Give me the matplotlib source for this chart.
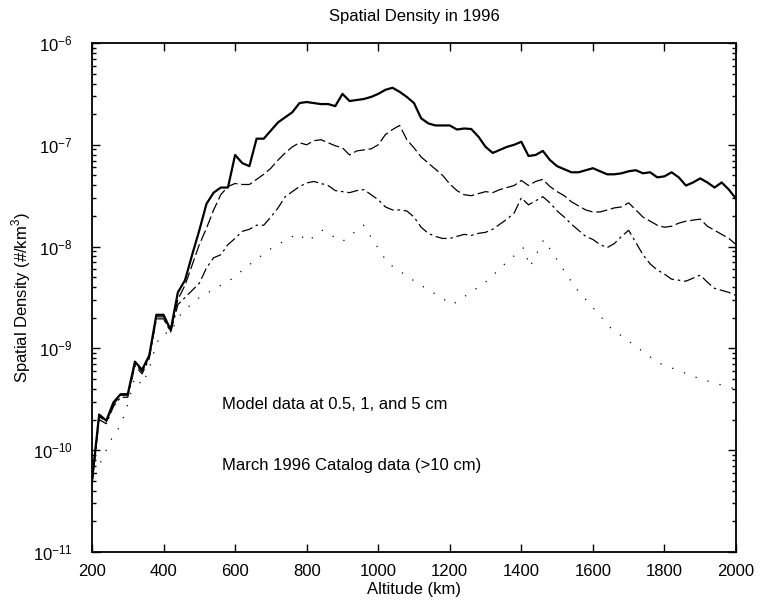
import matplotlib
matplotlib.use("Agg")
import matplotlib.pyplot as plt
import numpy as np

plt.rcParams['font.family'] = ['Liberation Sans', 'DejaVu Sans']
plt.rcParams['mathtext.fontset'] = 'custom'
plt.rcParams['mathtext.rm'] = 'Liberation Sans'

# altitude (km) and log10 of spatial density (#/km^3)
alt_05 = [200, 220, 240, 260, 280, 300, 320, 340, 360, 380, 400, 420, 440, 460, 480,
          500, 520, 540, 560, 580, 600, 620, 640, 660, 680, 700, 720, 740, 760, 780,
          800, 820, 840, 860, 880, 900, 920, 940, 960, 980, 1000, 1020, 1040, 1060,
          1080, 1100, 1120, 1140, 1160, 1180, 1200, 1220, 1240, 1260, 1280, 1300, 1320,
          1340, 1360, 1380, 1400, 1420, 1440, 1460, 1480, 1500, 1520, 1540, 1560, 1580,
          1600, 1620, 1640, 1660, 1680, 1700, 1720, 1740, 1760, 1780, 1800, 1820, 1840,
          1860, 1880, 1900, 1920, 1940, 1960, 1980, 2000]
lg_05 = [-10.30, -9.65, -9.71, -9.53, -9.45, -9.45, -9.13, -9.21, -9.07, -8.67, -8.67,
         -8.82, -8.45, -8.33, -8.08, -7.84, -7.58, -7.47, -7.42, -7.42, -7.10, -7.18,
         -7.21, -6.94, -6.94, -6.86, -6.78, -6.73, -6.68, -6.59, -6.58, -6.59, -6.60,
         -6.60, -6.62, -6.50, -6.57, -6.56, -6.55, -6.53, -6.50, -6.46, -6.44, -6.48,
         -6.53, -6.59, -6.74, -6.79, -6.81, -6.81, -6.81, -6.85, -6.84, -6.845, -6.92,
         -7.02, -7.08, -7.05, -7.02, -7.00, -6.97, -7.11, -7.10, -7.06, -7.15, -7.21,
         -7.24, -7.27, -7.27, -7.25, -7.23, -7.26, -7.29, -7.29, -7.28, -7.26, -7.25,
         -7.28, -7.27, -7.32, -7.31, -7.27, -7.32, -7.40, -7.37, -7.33, -7.37, -7.42,
         -7.37, -7.44, -7.53]

alt_1 = [200, 220, 240, 260, 280, 300, 320, 340, 360, 380, 400, 420, 440, 460, 480,
         500, 520, 540, 560, 580, 600, 620, 640, 660, 680, 700, 720, 740, 760, 780,
         800, 820, 840, 860, 880, 900, 920, 940, 960, 980, 1000, 1020, 1040, 1060,
         1080, 1100, 1120, 1140, 1160, 1180, 1200, 1220, 1240, 1260, 1280, 1300, 1320,
         1340, 1360, 1380, 1400, 1420, 1440, 1460, 1480, 1500, 1520, 1540, 1560, 1580,
         1600, 1620, 1640, 1660, 1680, 1700, 1720, 1740, 1760, 1780, 1800, 1820, 1840,
         1860, 1880, 1900, 1920, 1940, 1960, 1980, 2000]
lg_1 = [-10.32, -9.67, -9.72, -9.55, -9.46, -9.46, -9.15, -9.23, -9.08, -8.69, -8.69,
        -8.82, -8.52, -8.38, -8.18, -7.98, -7.82, -7.64, -7.49, -7.41, -7.38, -7.39,
        -7.39, -7.34, -7.29, -7.23, -7.15, -7.08, -7.02, -6.98, -7.00, -6.96, -6.95,
        -6.98, -7.01, -7.03, -7.10, -7.06, -7.05, -7.04, -7.00, -6.90, -6.85, -6.81,
        -6.95, -7.03, -7.12, -7.18, -7.24, -7.30, -7.385, -7.45, -7.49, -7.50, -7.48,
        -7.46, -7.47, -7.44, -7.42, -7.40, -7.35, -7.40, -7.36, -7.34, -7.41, -7.46,
        -7.50, -7.56, -7.60, -7.64, -7.66, -7.66, -7.64, -7.62, -7.61, -7.57, -7.64,
        -7.71, -7.75, -7.79, -7.81, -7.80, -7.77, -7.75, -7.74, -7.73, -7.80, -7.84,
        -7.88, -7.92, -7.98]

alt_5 = [200, 220, 240, 260, 280, 300, 320, 340, 360, 380, 400, 420, 440, 460, 480,
         500, 520, 540, 560, 580, 600, 620, 640, 660, 680, 700, 720, 740, 760, 780,
         800, 820, 840, 860, 880, 900, 920, 940, 960, 980, 1000, 1020, 1040, 1060,
         1080, 1100, 1120, 1140, 1160, 1180, 1200, 1220, 1240, 1260, 1280, 1300, 1320,
         1340, 1360, 1380, 1400, 1420, 1440, 1460, 1480, 1500, 1520, 1540, 1560, 1580,
         1600, 1620, 1640, 1660, 1680, 1700, 1720, 1740, 1760, 1780, 1800, 1820, 1840,
         1860, 1880, 1900, 1920, 1940, 1960, 1980, 2000]
lg_5 = [-10.34, -9.70, -9.74, -9.57, -9.48, -9.48, -9.17, -9.25, -9.10, -8.71, -8.71,
        -8.84, -8.57, -8.50, -8.43, -8.36, -8.21, -8.11, -8.08, -7.98, -7.92, -7.85,
        -7.83, -7.79, -7.79, -7.71, -7.62, -7.51, -7.46, -7.41, -7.375, -7.36, -7.38,
        -7.40, -7.45, -7.46, -7.47, -7.45, -7.44, -7.49, -7.54, -7.61, -7.64, -7.64,
        -7.65, -7.71, -7.81, -7.87, -7.90, -7.92, -7.92, -7.90, -7.88, -7.89, -7.87,
        -7.86, -7.83, -7.78, -7.73, -7.67, -7.52, -7.59, -7.55, -7.51, -7.57, -7.65,
        -7.71, -7.78, -7.84, -7.90, -7.93, -7.98, -8.01, -7.97, -7.90, -7.84, -7.96,
        -8.08, -8.17, -8.23, -8.27, -8.32, -8.33, -8.34, -8.31, -8.28, -8.35, -8.41,
        -8.43, -8.45, -8.48]

alt_cat = [200, 220, 240, 260, 280, 300, 320, 340, 360, 380, 400, 420, 440, 460, 500,
           550, 586, 650, 700, 750, 777, 802, 844, 900, 959, 1026, 1110, 1208, 1300,
           1360, 1407, 1424, 1463, 1550, 1650, 1782, 1900, 2000]
lg_cat = [-10.35, -10.15, -10.00, -9.85, -9.76, -9.55, -9.28, -9.36, -9.20, -8.95,
          -8.85, -8.85, -8.70, -8.62, -8.50, -8.40, -8.33, -8.15, -8.02, -7.92, -7.87,
          -7.95, -7.84, -7.95, -7.79, -8.16, -8.36, -8.57, -8.35, -8.15, -8.01, -8.20,
          -7.93, -8.40, -8.80, -9.14, -9.30, -9.40]

fig = plt.figure(figsize=(7.59, 6.03), dpi=100)
ax = fig.add_axes([0.1212, 0.0846, 0.8485, 0.8441])

ax.semilogy(alt_05, 10 ** np.array(lg_05), color='k', lw=1.6, ls='-')
ax.semilogy(alt_1, 10 ** np.array(lg_1), color='k', lw=0.9, ls=(0, (9, 3)))
ax.semilogy(alt_5, 10 ** np.array(lg_5), color='k', lw=0.9, ls=(0, (9, 3, 2, 3)))
ax.semilogy(alt_cat, 10 ** np.array(lg_cat), color='k', lw=0.9, ls=(0, (1, 9)))

ax.set_xlim(200, 2000)
ax.set_ylim(1e-11, 1e-6)
ax.set_xticks(np.arange(200, 2001, 200))
ax.tick_params(which='both', direction='in', top=True, right=True, labelsize=12,
               width=1.0, colors='k')
ax.tick_params(which='major', length=6)
ax.tick_params(which='minor', length=3)
ax.tick_params(axis='x', pad=9)
ax.tick_params(axis='y', pad=14)
for s in ax.spines.values():
    s.set_linewidth(1.3)

ax.text(563, 2.8e-10, 'Model data at 0.5, 1, and 5 cm', fontsize=12, va='center')
ax.text(563, 7.0e-11, 'March 1996 Catalog data (>10 cm)', fontsize=12, va='center')

ax.set_title('Spatial Density in 1996', fontsize=12, pad=16)
ax.set_xlabel('Altitude (km)', fontsize=12, labelpad=2)
ax.set_ylabel('Spatial Density (#/km$^3$)', fontsize=12)
ax.yaxis.set_label_coords(-0.092, 0.5)

fig.savefig('out.png', dpi=100)
